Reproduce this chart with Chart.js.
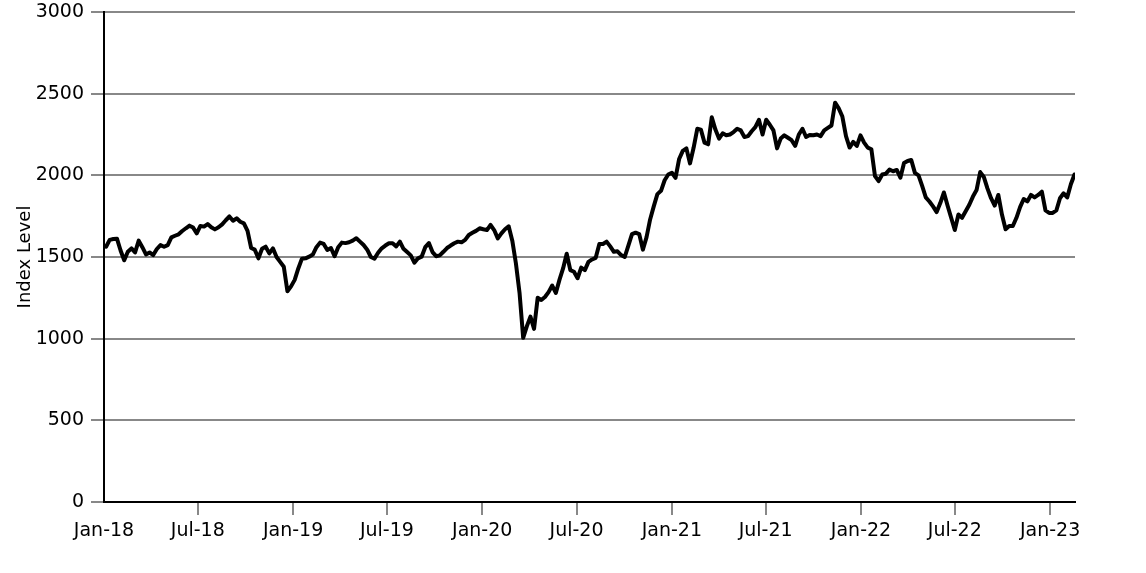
<!DOCTYPE html>
<html><head><meta charset="utf-8">
<script src="https://cdn.jsdelivr.net/npm/chart.js@4"></script>
<style>html,body{margin:0;padding:0;background:#fff}#wrap{width:1146px;height:573px}</style>
</head><body><div id="wrap"><canvas id="c" width="1146" height="573"></canvas></div>
<script>
// weekly observations starting at this date
const firstWeek = '2018-01-05';
const indexLevel = [
1563,1605,1610,1612,1540,1480,1532,1553,1528,1600,
1560,1516,1528,1512,1549,1573,1563,1573,1620,1630,
1639,1659,1676,1692,1680,1645,1690,1686,1702,1682,
1669,1682,1700,1725,1748,1722,1737,1716,1706,1660,
1555,1545,1492,1550,1563,1522,1553,1500,1470,1440,
1290,1320,1360,1430,1490,1492,1502,1515,1560,1588,
1580,1543,1555,1505,1560,1588,1585,1590,1600,1615,
1594,1573,1545,1500,1490,1526,1553,1570,1584,1584,
1565,1594,1550,1530,1510,1465,1492,1502,1560,1585,
1530,1505,1510,1532,1555,1570,1584,1594,1590,1605,
1635,1648,1660,1676,1670,1665,1696,1665,1614,1645,
1670,1688,1600,1460,1280,1005,1075,1135,1060,1250,
1237,1255,1285,1325,1280,1360,1430,1520,1420,1410,
1370,1435,1420,1470,1485,1495,1580,1580,1594,1565,
1532,1535,1512,1500,1570,1640,1649,1640,1545,1620,
1730,1810,1885,1905,1970,2005,2016,1985,2100,2150,
2165,2073,2170,2285,2280,2200,2190,2355,2280,2225,
2257,2245,2250,2265,2285,2275,2235,2240,2270,2295,
2340,2250,2340,2310,2275,2165,2225,2245,2230,2215,
2180,2250,2285,2235,2247,2245,2250,2240,2275,2290,
2305,2445,2410,2360,2240,2170,2205,2180,2245,2200,
2170,2160,1995,1965,2005,2010,2035,2025,2033,1985,
2075,2088,2094,2015,2000,1935,1865,1840,1810,1775,
1830,1895,1815,1740,1665,1760,1740,1780,1820,1870,
1910,2020,1990,1920,1860,1815,1880,1760,1670,1690,
1690,1740,1805,1855,1840,1880,1865,1880,1900,1785,
1770,1770,1785,1860,1890,1865,1945,2005
];
const xTickDates = ['2018-01-01','2018-07-01','2019-01-01','2019-07-01','2020-01-01','2020-07-01','2021-01-01','2021-07-01','2022-01-01','2022-07-01','2023-01-01'];
const xTickLabels = ['Jan-18','Jul-18','Jan-19','Jul-19','Jan-20','Jul-20','Jan-21','Jul-21','Jan-22','Jul-22','Jan-23'];
const axisStart = '2018-01-01';
const axisEnd = '2023-02-18';
const yMin = 0, yMax = 3000, yStep = 500;
const yTitle = 'Index Level';

const DAY = 86400000;
const dayOf = s => (Date.parse(s + 'T00:00:00Z') - Date.parse(axisStart + 'T00:00:00Z')) / DAY;
const startDay = dayOf(firstWeek);
const points = indexLevel.map((v, i) => ({ x: startDay + 7 * i, y: v }));

const FONT = 'DejaVu Sans';
new Chart(document.getElementById('c'), {
  type: 'line',
  data: { datasets: [{ data: points, borderColor: '#000', borderWidth: 4, pointRadius: 0, tension: 0, borderJoinStyle: 'round', borderCapStyle: 'round', fill: false }] },
  options: {
    responsive: false, animation: false, devicePixelRatio: 1,
    layout: { padding: { top: 12, right: 71, bottom: 0, left: 0 } },
    plugins: { legend: { display: false }, tooltip: { enabled: false } },
    scales: {
      x: {
        type: 'linear', min: 0, max: dayOf(axisEnd),
        afterBuildTicks: s => { s.ticks = xTickDates.map(d => ({ value: dayOf(d) })); },
        afterFit: s => { s.height = 71; s.paddingLeft = 0; s.paddingRight = 0; },
        ticks: { autoSkip: false, maxRotation: 0, padding: 5, color: '#000', font: { family: FONT, size: 19 },
          callback: (v, i) => xTickLabels[i] },
        grid: { drawOnChartArea: false, tickLength: 13, lineWidth: 2, color: ctx => (ctx.index === 0 ? 'rgba(0,0,0,0)' : '#888') },
        border: { color: '#000', width: 2 }
      },
      y: {
        min: yMin, max: yMax,
        afterFit: s => { s.width = 104; s.paddingTop = 0; s.paddingBottom = 0; },
        ticks: { stepSize: yStep, padding: 7, color: '#000', font: { family: FONT, size: 19 }, callback: v => String(v) },
        grid: { color: '#888', lineWidth: 2, tickLength: 13 },
        border: { color: '#000', width: 2 },
        title: { display: true, text: yTitle, color: '#000', font: { family: FONT, size: 18 }, padding: { top: 15, bottom: 0 } }
      }
    }
  }
});
</script></body></html>
